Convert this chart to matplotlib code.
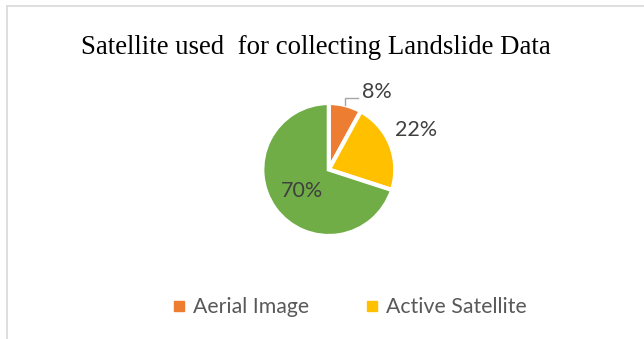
import numpy as np
import matplotlib
matplotlib.use("Agg")
import matplotlib.pyplot as plt
from matplotlib.lines import Line2D

# Share of satellite sources (clockwise from 12 o'clock)
categories = ["Aerial Image", "Active Satellite", "Passive Satellite"]
values = [8, 22, 70]
colors = ["#ED7D31", "#FFC000", "#70AD47"]
legend_labels = ["Aerial Image", "Active Satellite"]
title = "Satellite used  for collecting Landslide Data"

W, H = 644, 339
fig = plt.figure(figsize=(W / 100, H / 100), dpi=100)
fig.patch.set_facecolor("white")

# chart frame (top and left edges)
fig.add_artist(Line2D([7 / W, 1], [1 - 6 / H, 1 - 6 / H], color="#d9d9d9", lw=1.2))
fig.add_artist(Line2D([7 / W, 7 / W], [0, 1 - 6 / H], color="#d9d9d9", lw=1.2))

fig.text(316 / W, 1 - 47 / H, title, family="Liberation Serif", fontsize=19.3,
         ha="center", va="center", color="black")

# pie axes: radius 1 maps to R px, centred at (cx, cy) in pixels
R = 66.5
L = 1.6
side = 2 * L * R
cx, cy = 328.8, H - 169.5
ax = fig.add_axes([(cx - side / 2) / W, (cy - side / 2) / H, side / W, side / H])

wedges, _ = ax.pie(values, colors=colors, startangle=90, counterclock=False,
                   radius=1.0,
                   wedgeprops=dict(edgecolor="white", linewidth=3.0))
ax.set_xlim(-L, L)
ax.set_ylim(-L, L)
ax.set_aspect("equal")
ax.axis("off")

total = float(sum(values))
mids = []
start = 90.0
for v in values:
    sweep = 360.0 * v / total
    mids.append(np.deg2rad(start - sweep / 2))
    start -= sweep

lab_color = "#404040"
lab_font = "Lato"
lab_size = 15.5

# small slice: label outside with a leader line
a0 = mids[0]
ex, ey = 1.0 * np.cos(a0), 1.0 * np.sin(a0)
ky = ey + 0.1
kx2 = ex + 0.19
ax.plot([ex, ex, kx2], [ey, ky, ky], color="#a6a6a6", lw=1.0, clip_on=False)
ax.text(kx2 + 0.06, ky + 0.1, f"{values[0]}%", ha="left", va="center",
        family=lab_font, fontsize=lab_size, color=lab_color)

# medium slice: label just outside the rim
a1 = mids[1]
ax.text(1.41 * np.cos(a1), 1.41 * np.sin(a1) + 0.07, f"{values[1]}%", ha="center",
        va="center", family=lab_font, fontsize=lab_size, color=lab_color)

# large slice: label inside
a2 = mids[2]
ax.text(0.5 * np.cos(a2), 0.5 * np.sin(a2) - 0.03, f"{values[2]}%", ha="center",
        va="center", family=lab_font, fontsize=lab_size, color=lab_color)

handles = [Line2D([], [], marker="s", linestyle="none", markersize=6.5,
                  markerfacecolor=c, markeredgecolor=c) for c in colors[:len(legend_labels)]]
leg = fig.legend(handles, legend_labels, loc="center", ncol=2,
                 bbox_to_anchor=(349 / W, 32 / H), frameon=False,
                 prop=dict(family="Lato", size=15.3), handlelength=0.7,
                 handletextpad=0.3, columnspacing=2.6)
for t in leg.get_texts():
    t.set_color("#595959")

fig.savefig("out.png", dpi=100, facecolor="white")
